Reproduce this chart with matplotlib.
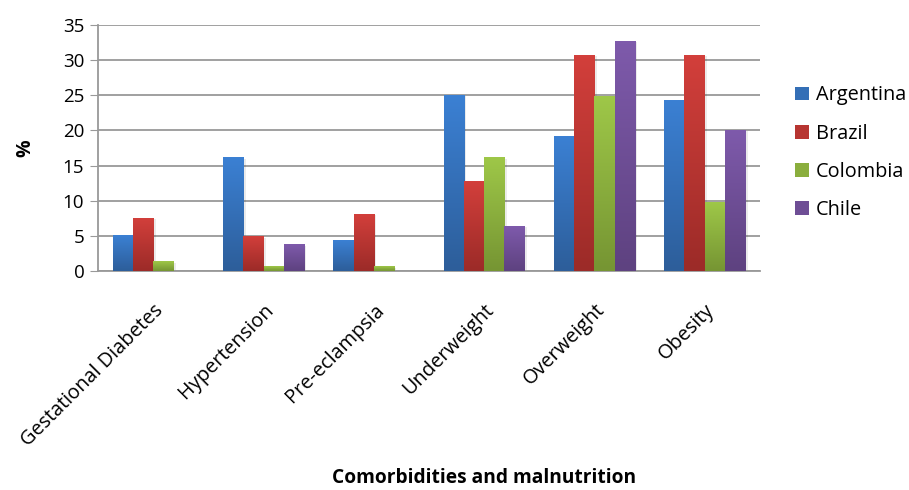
import numpy as np
import matplotlib
matplotlib.use("Agg")
import matplotlib.pyplot as plt
from matplotlib.colors import LinearSegmentedColormap
from matplotlib.patches import Rectangle, Patch

plt.rcParams['font.family'] = ['Open Sans', 'DejaVu Sans']

categories = ["Gestational Diabetes", "Hypertension", "Pre-eclampsia",
              "Underweight", "Overweight", "Obesity"]
countries = ["Argentina", "Brazil", "Colombia", "Chile"]

argentina = [5.0, 16.1, 4.3, 25.0, 19.1, 24.3]
brazil = [7.5, 4.9, 8.1, 12.7, 30.7, 30.7]
colombia = [1.3, 0.7, 0.6, 16.1, 24.8, 9.7]
chile = [0.0, 3.7, 0.0, 6.4, 32.7, 20.0]
series = [argentina, brazil, colombia, chile]

# top / bottom shades of each series gradient
shades = [("#3b80d3", "#2d5e9a"),
          ("#d23f3b", "#9c2b28"),
          ("#9ec748", "#769533"),
          ("#7e5aab", "#5e4280")]

fig = plt.figure(figsize=(9.09, 4.90), dpi=100)
ax = fig.add_axes([0.108, 0.447, 0.728, 0.502])

n = len(series)
width = 0.184
x = np.arange(len(categories))
grad = np.linspace(0, 1, 64).reshape(-1, 1)

for i, (vals, (top, bot)) in enumerate(zip(series, shades)):
    cmap = LinearSegmentedColormap.from_list(countries[i], [top, bot])
    for xc, v in zip(x, vals):
        if v <= 0:
            continue
        x0 = xc + (i - n / 2) * width
        # soft shadow on the right side
        ax.add_patch(Rectangle((x0 + 0.02, 0), width, v - 0.15,
                               facecolor="#000000", alpha=0.08,
                               linewidth=0, zorder=2))
        ax.imshow(grad, extent=[x0, x0 + width, 0, v], aspect="auto",
                  cmap=cmap, zorder=3, interpolation="bilinear")

ax.set_xlim(-0.5, len(categories) - 0.5)
ax.set_ylim(0, 35)
ax.set_yticks(range(0, 36, 5))
ax.yaxis.grid(True, color="#999999", linewidth=1.3, zorder=1)
ax.set_axisbelow(True)

ax.set_xticks(x)
ax.set_xticklabels(categories, rotation=45, ha="right", rotation_mode="anchor",
                   fontsize=14.3)
ax.tick_params(axis="x", length=0, pad=21)
ax.tick_params(axis="y", length=6, color="#999999", labelsize=13.5,
               direction="out", pad=4)

for side in ["top", "right"]:
    ax.spines[side].set_visible(False)
for side in ["left", "bottom"]:
    ax.spines[side].set_color("#999999")
    ax.spines[side].set_linewidth(1.3)

ax.set_ylabel("%", fontsize=14, fontweight="bold", labelpad=20)
fig.text(0.532, 0.005, "Comorbidities and malnutrition", ha="center",
         va="bottom", fontsize=13.8, fontweight="bold")

handles = [Patch(facecolor=LinearSegmentedColormap.from_list("h", s)(0.5))
           for s in shades]
fig.legend(handles, countries, loc="center left",
           bbox_to_anchor=(0.866, 0.688), frameon=False, fontsize=14.3,
           handlelength=0.7, handleheight=0.7, handletextpad=0.35,
           labelspacing=0.92, borderaxespad=0)

fig.savefig("out.png", dpi=100)
